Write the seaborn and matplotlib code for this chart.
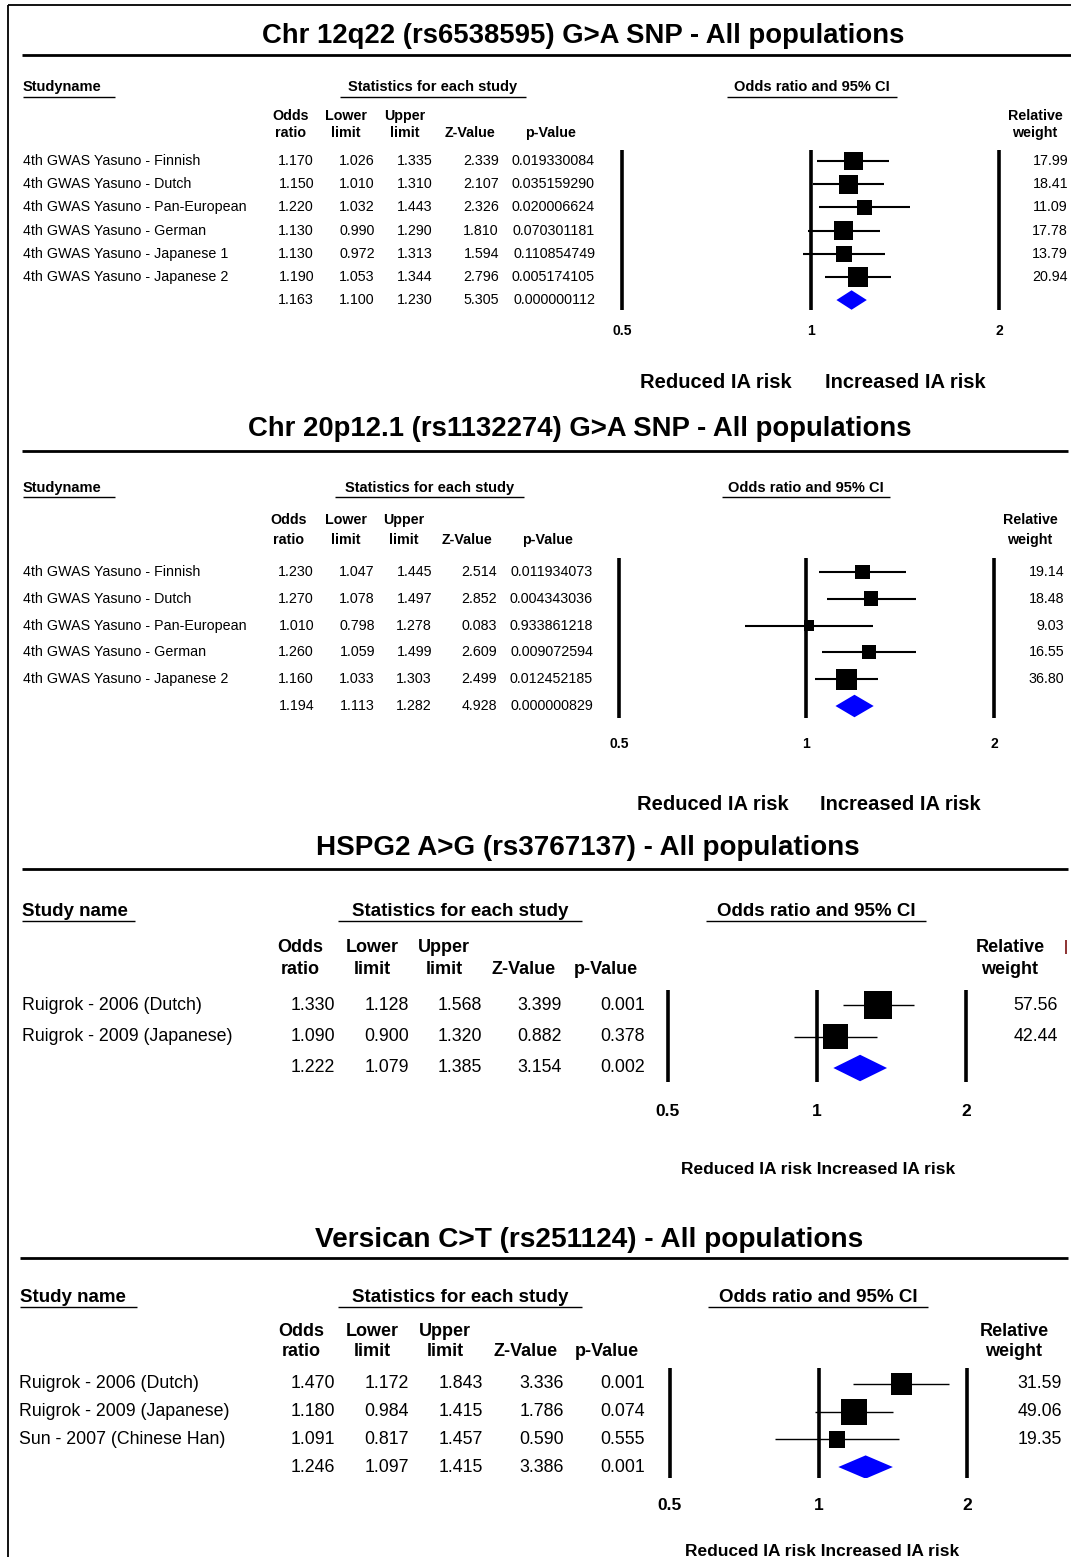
import numpy as np
import pandas as pd
import matplotlib
matplotlib.use("Agg")
import matplotlib.pyplot as plt
import matplotlib.transforms as mtransforms
from matplotlib.lines import Line2D
import seaborn as sns

W, H = 1071, 1557

# ---------------- data ----------------
p1_title = "Chr 12q22 (rs6538595) G>A SNP - All populations"
p1_studies = ["4th GWAS Yasuno - Finnish", "4th GWAS Yasuno - Dutch", "4th GWAS Yasuno - Pan-European",
              "4th GWAS Yasuno - German", "4th GWAS Yasuno - Japanese 1", "4th GWAS Yasuno - Japanese 2", ""]
p1_or = [1.170, 1.150, 1.220, 1.130, 1.130, 1.190, 1.163]
p1_lower = [1.026, 1.010, 1.032, 0.990, 0.972, 1.053, 1.100]
p1_upper = [1.335, 1.310, 1.443, 1.290, 1.313, 1.344, 1.230]
p1_z = [2.339, 2.107, 2.326, 1.810, 1.594, 2.796, 5.305]
p1_p = ["0.019330084", "0.035159290", "0.020006624", "0.070301181", "0.110854749", "0.005174105", "0.000000112"]
p1_weight = [17.99, 18.41, 11.09, 17.78, 13.79, 20.94]

p2_title = "Chr 20p12.1 (rs1132274) G>A SNP - All populations"
p2_studies = ["4th GWAS Yasuno - Finnish", "4th GWAS Yasuno - Dutch", "4th GWAS Yasuno - Pan-European",
              "4th GWAS Yasuno - German", "4th GWAS Yasuno - Japanese 2", ""]
p2_or = [1.230, 1.270, 1.010, 1.260, 1.160, 1.194]
p2_lower = [1.047, 1.078, 0.798, 1.059, 1.033, 1.113]
p2_upper = [1.445, 1.497, 1.278, 1.499, 1.303, 1.282]
p2_z = [2.514, 2.852, 0.083, 2.609, 2.499, 4.928]
p2_p = ["0.011934073", "0.004343036", "0.933861218", "0.009072594", "0.012452185", "0.000000829"]
p2_weight = [19.14, 18.48, 9.03, 16.55, 36.80]

p3_title = "HSPG2 A>G (rs3767137) - All populations"
p3_studies = ["Ruigrok - 2006 (Dutch)", "Ruigrok - 2009 (Japanese)", ""]
p3_or = [1.330, 1.090, 1.222]
p3_lower = [1.128, 0.900, 1.079]
p3_upper = [1.568, 1.320, 1.385]
p3_z = [3.399, 0.882, 3.154]
p3_p = ["0.001", "0.378", "0.002"]
p3_weight = [57.56, 42.44]

p4_title = "Versican C>T (rs251124) - All populations"
p4_studies = ["Ruigrok - 2006 (Dutch)", "Ruigrok - 2009 (Japanese)", "Sun - 2007 (Chinese Han)", ""]
p4_or = [1.470, 1.180, 1.091, 1.246]
p4_lower = [1.172, 0.984, 0.817, 1.097]
p4_upper = [1.843, 1.415, 1.457, 1.415]
p4_z = [3.336, 1.786, 0.590, 3.386]
p4_p = ["0.001", "0.074", "0.555", "0.001"]
p4_weight = [31.59, 49.06, 19.35]

axis_ticks = [0.5, 1, 2]
axis_tick_labels = ["0.5", "1", "2"]
header_labels = ["Statistics for each study", "Odds ratio and 95% CI"]

# ---------------- style ----------------
sns.set_theme(style="white")
plt.rcParams["font.family"] = ["Liberation Sans", "DejaVu Sans"]
plt.rcParams["text.color"] = "black"

fig = plt.figure(figsize=(W / 100, H / 100), dpi=100)


def fx(x):
    return x / W


def fy(y):
    return 1 - y / H


def fig_line(xs, ys, lw, color="black"):
    fig.add_artist(Line2D([fx(v) for v in xs], [fy(v) for v in ys],
                          transform=fig.transFigure, color=color, lw=lw, solid_capstyle="butt"))


# frame lines
fig_line([7.5, 7.5], [5, 1557], 1.3)
fig_line([7.5, 1071], [5, 5], 1.3)


def draw_panel(title, studies, ors, lows, highs, zs, ps, weights, L):
    # title and rule
    fig.text(fx(L["title_x"]), fy(L["title_y"]), title, ha="center", va="center",
             fontsize=L["title_fs"], fontweight="bold")
    fig_line([L["rule"][0], L["rule"][1]], [L["rule"][2], L["rule"][2]], 2.0)
    # headers with underline
    name_hdr = L["name_hdr"]
    for (x0, x1), txt in zip(L["hdr_spans"], [name_hdr] + header_labels):
        if txt == name_hdr:
            fig.text(fx(x0), fy(L["hdr_y"]), txt, ha="left", va="center",
                     fontsize=L["hdr_fs"], fontweight="bold")
        else:
            fig.text(fx((x0 + x1) / 2), fy(L["hdr_y"]), txt, ha="center", va="center",
                     fontsize=L["hdr_fs"], fontweight="bold")
        fig_line([x0, x1], [L["hdr_ul"], L["hdr_ul"]], 1.0)
    # sub headers
    y1, y2 = L["sub_y"]
    for x, t1, t2 in L["sub_cols"]:
        if t1:
            fig.text(fx(x), fy(y1), t1, ha="center", va="center", fontsize=L["sub_fs"], fontweight="bold")
        fig.text(fx(x), fy(y2), t2, ha="center", va="center", fontsize=L["sub_fs"], fontweight="bold")

    n = len(ors)
    rows = np.arange(n)
    y0, step = L["rows"]
    top_px = y0 - L["vpad"][0]
    bot_px = y0 + (n - 1) * step + L["vpad"][1]
    x05, x2 = L["forest_x"]
    ax = fig.add_axes([fx(x05), fy(bot_px), (x2 - x05) / W, (bot_px - top_px) / H])
    ax.set_xscale("log")
    ax.set_xlim(0.5, 2)
    ax.set_ylim(n - 1 + L["vpad"][1] / step, -L["vpad"][0] / step)
    ax.axis("off")
    for v in axis_ticks:
        ax.axvline(v, 0, 1, color="black", lw=2.6, solid_capstyle="butt", clip_on=False)

    # study CIs and boxes
    ns = len(weights)
    ax.hlines(rows[:ns], lows[:ns], highs[:ns], color="black", lw=L["ci_lw"], clip_on=False)
    df = pd.DataFrame({"or": ors[:ns], "row": rows[:ns], "w": weights})
    sizes = (L["box_k"] * np.sqrt(df["w"].to_numpy()) * 0.72) ** 2
    sns.scatterplot(data=df, x="or", y="row", s=sizes, marker="s", color="black",
                    linewidth=0, ax=ax, legend=False, clip_on=False, zorder=3)
    # summary diamond
    r = rows[-1]
    h = 0.42
    ax.fill([lows[-1], ors[-1], highs[-1], ors[-1]], [r, r - h, r, r + h],
            color="#0000FF", lw=0, zorder=3)

    # tick labels
    tr_tick = mtransforms.blended_transform_factory(ax.transData, fig.transFigure)
    for v, lab in zip(axis_ticks, axis_tick_labels):
        ax.text(v, fy(L["tick_y"]), lab, transform=tr_tick, ha="center", va="center",
                fontsize=L["tick_fs"], fontweight="bold")

    # table rows
    tr = mtransforms.blended_transform_factory(fig.transFigure, ax.transData)
    cols = L["num_right"]
    for i in range(n):
        ax.text(fx(L["name_x"]), i, studies[i], transform=tr, ha="left", va="center", fontsize=L["row_fs"])
        vals = [f"{ors[i]:.3f}", f"{lows[i]:.3f}", f"{highs[i]:.3f}", f"{zs[i]:.3f}", ps[i]]
        for xr, v in zip(cols, vals):
            ax.text(fx(xr), i, v, transform=tr, ha="right", va="center", fontsize=L["row_fs"])
        if i < ns:
            ax.text(fx(L["weight_right"]), i, f"{weights[i]:.2f}", transform=tr, ha="right",
                    va="center", fontsize=L["row_fs"])

    for xc, txt in L["risk"]:
        fig.text(fx(xc), fy(L["risk_y"]), txt, ha="center", va="center",
                 fontsize=L["risk_fs"], fontweight="bold")
    return ax


L1 = dict(title_x=583, title_y=36, title_fs=19.8, rule=(22, 1071, 55),
          name_hdr="Studyname",
          hdr_y=87, hdr_ul=97, hdr_fs=10.5, hdr_spans=[(23, 115), (340, 526), (727, 897)],
          sub_y=(116, 133), sub_fs=10.3,
          sub_cols=[(291, "Odds", "ratio"), (346, "Lower", "limit"), (405, "Upper", "limit"),
                    (470, "", "Z-Value"), (550, "", "p-Value"), (1035, "Relative", "weight")],
          rows=(161, 23.17), vpad=(11, 10), forest_x=(622, 999), ci_lw=1.5, box_k=4.4,
          name_x=23, num_right=[314, 375, 433, 499, 595], weight_right=1068, row_fs=10.3,
          tick_y=331, tick_fs=10,
          risk=[(716, "Reduced IA risk"), (905, "Increased IA risk")], risk_y=383, risk_fs=14.5)

L2 = dict(title_x=580, title_y=429, title_fs=19.8, rule=(22, 1068, 451),
          name_hdr="Studyname",
          hdr_y=488, hdr_ul=497, hdr_fs=10.5, hdr_spans=[(23, 115), (335, 524), (722, 890)],
          sub_y=(520, 540), sub_fs=10.3,
          sub_cols=[(289, "Odds", "ratio"), (346, "Lower", "limit"), (404, "Upper", "limit"),
                    (467, "", "Z-Value"), (547, "", "p-Value"), (1030, "Relative", "weight")],
          rows=(572, 26.8), vpad=(14, 12), forest_x=(619, 994), ci_lw=1.5, box_k=3.4,
          name_x=23, num_right=[314, 375, 432, 497, 593], weight_right=1064, row_fs=10.3,
          tick_y=744, tick_fs=10,
          risk=[(713, "Reduced IA risk"), (900, "Increased IA risk")], risk_y=804, risk_fs=14.5)

L3 = dict(title_x=588, title_y=848, title_fs=20, rule=(22, 1068, 869),
          name_hdr="Study name",
          hdr_y=911, hdr_ul=921, hdr_fs=13.5, hdr_spans=[(22, 135), (338, 582), (706, 926)],
          sub_y=(948, 970), sub_fs=13,
          sub_cols=[(300, "Odds", "ratio"), (372, "Lower", "limit"), (444, "Upper", "limit"),
                    (524, "", "Z-Value"), (606, "", "p-Value"), (1010, "Relative", "weight")],
          rows=(1005, 31.5), vpad=(15, 14), forest_x=(668, 966), ci_lw=1.0, box_k=3.7,
          name_x=22, num_right=[335, 409, 482, 562, 645], weight_right=1058, row_fs=12.8,
          tick_y=1112, tick_fs=12.5,
          risk=[(818, "Reduced IA risk Increased IA risk")], risk_y=1169, risk_fs=12.5)

L4 = dict(title_x=589, title_y=1240, title_fs=20.2, rule=(20, 1068, 1258),
          name_hdr="Study name",
          hdr_y=1298, hdr_ul=1307, hdr_fs=13.5, hdr_spans=[(20, 137), (338, 582), (708, 928)],
          sub_y=(1331, 1351), sub_fs=13,
          sub_cols=[(301, "Odds", "ratio"), (372, "Lower", "limit"), (445, "Upper", "limit"),
                    (526, "", "Z-Value"), (607, "", "p-Value"), (1014, "Relative", "weight")],
          rows=(1384, 27.67), vpad=(16, 11), forest_x=(670, 967), ci_lw=1.0, box_k=3.75,
          name_x=19, num_right=[335, 409, 483, 564, 645], weight_right=1062, row_fs=12.8,
          tick_y=1505, tick_fs=12.5,
          risk=[(822, "Reduced IA risk Increased IA risk")], risk_y=1552, risk_fs=12.5)

draw_panel(p1_title, p1_studies, p1_or, p1_lower, p1_upper, p1_z, p1_p, p1_weight, L1)
draw_panel(p2_title, p2_studies, p2_or, p2_lower, p2_upper, p2_z, p2_p, p2_weight, L2)
draw_panel(p3_title, p3_studies, p3_or, p3_lower, p3_upper, p3_z, p3_p, p3_weight, L3)
draw_panel(p4_title, p4_studies, p4_or, p4_lower, p4_upper, p4_z, p4_p, p4_weight, L4)

# small cut-off mark next to "Relative" in the third panel
fig_line([1066, 1066], [940, 954], 1.2, color="#7a1010")

fig.savefig("out.png", dpi=100)
